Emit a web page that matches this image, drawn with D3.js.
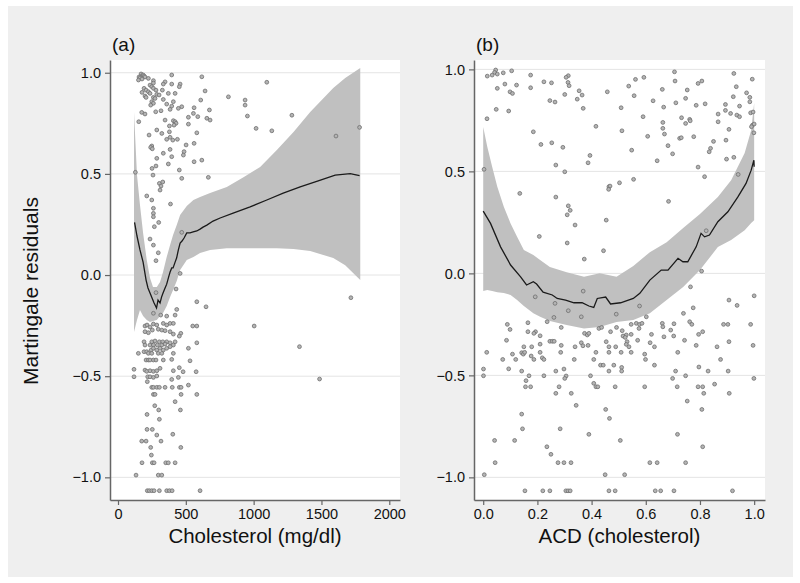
<!DOCTYPE html>
<html><head><meta charset="utf-8">
<script src="https://cdn.jsdelivr.net/npm/d3@7"></script>
<style>body{margin:0;background:#fff}svg{display:block}text{font-family:"Liberation Sans",Arial,Helvetica,sans-serif}</style>
</head><body>
<script>
// ---------- DATA ----------
const yTicks = [-1, -0.5, 0, 0.5, 1];
const cholTicks = [0, 500, 1000, 1500, 2000];
const acdTicks = [0, 0.2, 0.4, 0.6, 0.8, 1.0];
const panelLabels = ["(a)", "(b)"];
const xTitles = ["Cholesterol (mg/dl)", "ACD (cholesterol)"];
const yTitle = "Martingale residuals";

// panel (a): residuals vs cholesterol
const ptsA = [
[170,0.994],[177,0.984],[185,0.989],[192,0.984],[199,0.979],[155,0.979],[162,0.974],[151,0.964],[177,0.969],[396,0.989],[618,0.980],[224,0.972],[261,0.961],[261,0.949],[347,0.955],[334,0.944],[396,0.944],[458,0.944],[452,0.931],[236,0.939],[249,0.931],[261,0.923],[192,0.923],[207,0.914],[177,0.903],[224,0.906],[236,0.898],[280,0.914],[327,0.914],[642,0.910],[286,0.893],[303,0.890],[371,0.898],[421,0.898],[199,0.885],[207,0.878],[261,0.878],[273,0.873],[334,0.868],[408,0.857],[249,0.857],[261,0.849],[241,0.840],[359,0.845],[610,0.865],[814,0.881],[470,0.832],[445,0.824],[396,0.835],[384,0.819],[278,0.807],[317,0.812],[561,0.827],[556,0.799],[674,0.816],[175,0.804],[199,0.796],[519,0.780],[588,0.783],[655,0.775],[679,0.766],[153,0.758],[347,0.766],[408,0.763],[421,0.758],[428,0.750],[413,0.741],[519,0.746],[379,0.737],[286,0.717],[323,0.700],[229,0.692],[379,0.708],[581,0.703],[359,0.671],[384,0.681],[404,0.667],[438,0.671],[249,0.638],[241,0.631],[253,0.624],[502,0.643],[561,0.651],[384,0.621],[334,0.602],[487,0.610],[482,0.593],[396,0.585],[286,0.577],[561,0.560],[618,0.568],[371,0.549],[280,0.539],[251,0.527],[128,0.508],[258,0.494],[452,0.519],[470,0.478],[666,0.483],[305,0.453],[317,0.440],[330,0.460],[310,0.420],[212,0.391],[249,0.371],[261,0.330],[261,0.305],[261,0.288],[387,0.351],[300,0.260],[268,0.239],[236,0.178],[261,0.148],[297,0.110],[280,0.071],[470,0.211],[458,0.008],[428,-0.069],
[937,0.865],[937,0.840],[954,0.786],[1018,0.725],[1097,0.953],[1134,0.713],[1282,0.790],[1607,0.687],[1781,0.730],
[280,-0.087],[581,-0.132],[649,-0.157],[433,-0.170],[261,-0.189],[315,-0.198],[359,-0.203],[421,-0.198],
[199,-0.252],[214,-0.247],[236,-0.257],[261,-0.242],[286,-0.247],[334,-0.239],[359,-0.247],[384,-0.239],[408,-0.239],[551,-0.252],[581,-0.252],[1004,-0.252],
[253,-0.272],[297,-0.268],[323,-0.272],[347,-0.275],[199,-0.280],[224,-0.285],[384,-0.280],[408,-0.292],[463,-0.288],[452,-0.302],
[192,-0.330],[199,-0.346],[249,-0.330],[273,-0.326],[305,-0.330],[330,-0.330],[359,-0.330],[384,-0.335],[421,-0.330],[236,-0.346],[261,-0.346],[290,-0.346],[323,-0.346],[347,-0.341],[408,-0.346],[384,-0.354],[581,-0.335],[519,-0.362],
[192,-0.379],[212,-0.379],[244,-0.371],[261,-0.362],[286,-0.371],[310,-0.362],[334,-0.371],[359,-0.362],[150,-0.387],[224,-0.387],[249,-0.387],[297,-0.387],[323,-0.387],[408,-0.387],
[207,-0.420],[224,-0.420],[236,-0.420],[261,-0.420],[280,-0.420],[334,-0.420],[396,-0.417],[531,-0.424],[452,-0.458],
[118,-0.466],[199,-0.470],[212,-0.476],[236,-0.473],[261,-0.476],[286,-0.473],[310,-0.461],[408,-0.473],[480,-0.478],[576,-0.478],
[118,-0.503],[219,-0.503],[236,-0.503],[261,-0.506],[286,-0.499],[396,-0.516],[445,-0.506],[216,-0.527],
[519,-0.544],[249,-0.555],[261,-0.555],[286,-0.555],[305,-0.555],[347,-0.555],[400,-0.555],[452,-0.555],[465,-0.555],
[261,-0.590],[273,-0.590],[465,-0.590],[581,-0.590],
[421,-0.626],[271,-0.646],[300,-0.667],[460,-0.667],[214,-0.689],[305,-0.713],
[214,-0.763],[253,-0.763],[286,-0.791],[404,-0.787],[175,-0.821],[207,-0.821],[317,-0.821],
[241,-0.852],[463,-0.852],[246,-0.890],
[177,-0.928],[253,-0.928],[266,-0.928],[352,-0.928],[371,-0.928],[421,-0.928],
[133,-0.989],[297,-0.989],[323,-0.989],
[216,-1.066],[231,-1.066],[249,-1.066],[266,-1.066],[305,-1.066],[359,-1.066],[379,-1.066],[399,-1.066],[605,-1.066],
[1338,-0.354],[1486,-0.514],[1717,-0.112]
];
const lineA = [[122,0.260],[140,0.193],[162,0.124],[185,0.064],[207,-0.025],[221,-0.064],[236,-0.089],[251,-0.114],[266,-0.138],[284,-0.163],[295,-0.124],[310,-0.138],[321,-0.109],[332,-0.089],[347,-0.064],[359,-0.045],[373,-0.010],[384,0.015],[396,0.035],[406,0.035],[421,0.064],[432,0.084],[445,0.124],[458,0.158],[472,0.168],[487,0.183],[507,0.208],[531,0.208],[554,0.213],[581,0.218],[605,0.227],[627,0.237],[655,0.247],[701,0.267],[753,0.282],[849,0.306],[974,0.337],[1097,0.371],[1218,0.405],[1343,0.436],[1476,0.465],[1601,0.494],[1712,0.501],[1781,0.491]];
const bandAx  = [118,140,162,185,212,236,258,286,310,332,359,384,406,433,458,507,556,605,679,802,925,1048,1171,1294,1417,1587,1675,1786];
const bandAhi = [0.806,0.494,0.346,0.208,0.074,-0.015,-0.059,-0.059,-0.035,0.015,0.089,0.148,0.198,0.247,0.297,0.341,0.371,0.386,0.405,0.435,0.484,0.534,0.618,0.707,0.806,0.924,0.974,1.023];
const bandAlo = [-0.282,-0.222,-0.173,-0.203,-0.222,-0.232,-0.227,-0.222,-0.203,-0.188,-0.153,-0.109,-0.074,-0.030,0.025,0.074,0.089,0.109,0.124,0.133,0.133,0.133,0.133,0.129,0.119,0.084,0.049,-0.025];

// panel (b): residuals vs ACD
const ptsB = [
[0.046,0.997],[0.042,0.985],[0.052,0.977],[0.015,0.967],[0.033,0.972],[0.074,0.983],[0.105,0.993],[0.175,0.972],[0.224,0.939],[0.252,0.934],[0.314,0.969],[0.306,0.961],[0.313,0.936],[0.317,0.920],[0.080,0.928],[0.123,0.923],[0.052,0.907],[0.099,0.890],[0.108,0.882],[0.175,0.910],[0.301,0.877],[0.354,0.895],[0.365,0.874],[0.347,0.854],[0.458,0.890],[0.246,0.847],[0.265,0.840],[0.048,0.804],[0.094,0.796],[0.369,0.809],[0.509,0.812],[0.014,0.758],[0.416,0.721],[0.185,0.694],[0.512,0.699],[0.213,0.632],[0.253,0.640],[0.294,0.618],[0.394,0.578],[0.387,0.542],[0.268,0.531],[0.301,0.498],[0.003,0.510],[0.503,0.444],[0.464,0.425],[0.468,0.428],[0.463,0.412],[0.135,0.392],[0.268,0.374],[0.314,0.331],[0.321,0.309],[0.310,0.287],[0.454,0.261],[0.339,0.237],[0.207,0.181],[0.310,0.149],[0.444,0.111],[0.373,0.070],
[0.706,0.988],[0.925,0.980],[0.562,0.951],[0.593,0.961],[0.708,0.943],[0.993,0.952],[0.537,0.918],[0.793,0.931],[0.807,0.943],[0.934,0.915],[0.661,0.902],[0.753,0.899],[0.557,0.871],[0.972,0.885],[0.923,0.866],[0.984,0.863],[0.984,0.841],[0.627,0.846],[0.747,0.858],[0.711,0.836],[0.819,0.831],[0.786,0.824],[0.894,0.828],[0.894,0.799],[0.666,0.815],[0.946,0.820],[0.913,0.784],[0.936,0.776],[0.946,0.768],[0.987,0.787],[0.996,0.791],[0.867,0.781],[0.867,0.743],[0.590,0.768],[0.732,0.763],[0.762,0.755],[0.764,0.748],[0.747,0.735],[0.663,0.740],[0.663,0.711],[0.669,0.683],[0.907,0.706],[0.994,0.727],[1.0,0.732],[0.999,0.689],[0.990,0.719],[0.607,0.672],[0.725,0.662],[0.731,0.665],[0.777,0.670],[0.896,0.653],[0.850,0.647],[0.682,0.626],[0.839,0.613],[0.834,0.596],[0.548,0.604],[0.699,0.586],[0.925,0.569],[0.898,0.560],[0.642,0.552],[0.793,0.521],[0.941,0.485],[0.555,0.461],[0.817,0.474],[0.684,0.353],[0.823,0.209],[0.806,0.011],
[0.765,-0.066],[0.907,-0.131],[1.0,-0.110],
[0.369,-0.087],[0.192,-0.115],[0.265,-0.147],[0.314,-0.183],[0.362,-0.213],[0.491,-0.200],[0.261,-0.216],[0.236,-0.237],[0.089,-0.250],[0.099,-0.275],[0.165,-0.242],[0.165,-0.286],[0.193,-0.286],[0.187,-0.294],[0.210,-0.306],[0.288,-0.265],[0.374,-0.294],[0.384,-0.302],[0.390,-0.294],[0.427,-0.270],[0.437,-0.265],[0.470,-0.286],[0.492,-0.265],[0.513,-0.281],[0.516,-0.307],[0.086,-0.328],[0.246,-0.333],[0.255,-0.333],[0.262,-0.333],[0.210,-0.347],[0.288,-0.353],[0.362,-0.340],[0.368,-0.355],[0.387,-0.353],[0.454,-0.335],[0.464,-0.360],[0.489,-0.360],[0.150,-0.360],[0.179,-0.360],[0.339,-0.360],[0.142,-0.389],[0.148,-0.396],[0.153,-0.387],[0.210,-0.387],[0.286,-0.387],[0.416,-0.387],[0.464,-0.387],[0.509,-0.387],[0.013,-0.387],[0.108,-0.396],[0.177,-0.405],[0.187,-0.422],[0.218,-0.414],[0.224,-0.422],[0.072,-0.422],[0.120,-0.422],[0.336,-0.422],[0.408,-0.422],[0.433,-0.450],[0.443,-0.450],[0.482,-0.450],[0.511,-0.461],[0.001,-0.469],[0.094,-0.468],[0.142,-0.479],[0.268,-0.479],[0.298,-0.469],[0.464,-0.479],[0.511,-0.479],[0.001,-0.502],[0.169,-0.502],[0.224,-0.502],[0.306,-0.503],[0.301,-0.515],[0.396,-0.502],[0.158,-0.526],[0.156,-0.556],[0.175,-0.556],[0.280,-0.556],[0.408,-0.539],[0.416,-0.556],[0.423,-0.556],[0.487,-0.556],[0.268,-0.588],[0.325,-0.588],[0.343,-0.647],[0.452,-0.667],[0.466,-0.711],[0.142,-0.690],[0.145,-0.762],[0.284,-0.762],[0.390,-0.789],[0.042,-0.819],[0.116,-0.819],[0.506,-0.819],[0.235,-0.850],[0.250,-0.887],[0.044,-0.928],[0.276,-0.928],[0.298,-0.928],[0.324,-0.928],[0.004,-0.987],[0.450,-0.987],[0.154,-1.066],[0.220,-1.066],[0.246,-1.066],[0.305,-1.066],[0.313,-1.066],[0.321,-1.066],[0.464,-1.066],[0.487,-1.066],
[0.577,-0.160],[0.602,-0.213],[0.937,-0.157],[0.775,-0.169],[0.739,-0.196],[0.661,-0.245],[0.663,-0.262],[0.546,-0.250],[0.565,-0.245],[0.577,-0.250],[0.586,-0.245],[0.704,-0.247],[0.762,-0.237],[0.770,-0.250],[0.887,-0.250],[0.903,-0.250],[0.987,-0.250],[0.575,-0.270],[0.692,-0.278],[0.810,-0.286],[0.528,-0.302],[0.524,-0.314],[0.546,-0.299],[0.621,-0.299],[0.667,-0.311],[0.703,-0.307],[0.795,-0.299],[0.570,-0.328],[0.616,-0.340],[0.743,-0.328],[0.907,-0.335],[0.531,-0.335],[0.528,-0.348],[0.632,-0.360],[0.786,-0.353],[0.863,-0.360],[0.996,-0.353],[0.538,-0.360],[0.546,-0.387],[0.596,-0.396],[0.718,-0.387],[0.599,-0.422],[0.876,-0.422],[0.632,-0.450],[0.796,-0.459],[0.710,-0.479],[0.830,-0.479],[0.904,-0.479],[0.999,-0.515],[0.699,-0.515],[0.747,-0.502],[0.854,-0.543],[0.596,-0.556],[0.716,-0.556],[0.793,-0.556],[0.810,-0.556],[0.814,-0.588],[0.908,-0.588],[0.753,-0.626],[0.807,-0.667],[0.717,-0.789],[0.810,-0.850],[0.615,-0.928],[0.642,-0.928],[0.747,-0.928],[0.522,-0.987],[0.635,-1.066],[0.655,-1.066],[0.704,-1.066],[0.920,-1.066]
];
const lineB = [[0.000,0.305],[0.027,0.245],[0.064,0.130],[0.101,0.041],[0.138,-0.017],[0.160,-0.057],[0.185,-0.041],[0.197,-0.052],[0.221,-0.092],[0.255,-0.106],[0.273,-0.123],[0.304,-0.131],[0.335,-0.144],[0.365,-0.144],[0.390,-0.160],[0.408,-0.167],[0.421,-0.123],[0.452,-0.116],[0.470,-0.150],[0.507,-0.144],[0.554,-0.123],[0.578,-0.098],[0.615,-0.033],[0.657,0.016],[0.682,0.016],[0.719,0.074],[0.737,0.057],[0.755,0.057],[0.786,0.130],[0.804,0.196],[0.817,0.179],[0.835,0.188],[0.866,0.253],[0.903,0.302],[0.940,0.375],[0.970,0.441],[0.989,0.506],[0.999,0.555],[1.0,0.523]];
const bandBx  = [0,0.015,0.033,0.052,0.076,0.101,0.125,0.150,0.185,0.210,0.246,0.308,0.372,0.430,0.492,0.554,0.615,0.677,0.738,0.800,0.866,0.915,0.965,0.989,1.0];
const bandBhi = [0.718,0.621,0.523,0.425,0.326,0.245,0.179,0.114,0.090,0.065,0.031,0.006,-0.017,0.000,-0.017,0.036,0.104,0.153,0.222,0.291,0.374,0.457,0.590,0.702,0.835];
const bandBlo = [-0.087,-0.082,-0.087,-0.092,-0.096,-0.106,-0.131,-0.160,-0.195,-0.213,-0.234,-0.253,-0.270,-0.263,-0.239,-0.229,-0.195,-0.131,-0.067,0.016,0.129,0.163,0.212,0.247,0.261];

// ---------- DRAW ----------
const W = 800, H = 583;
const svg = d3.select("body").append("svg").attr("width", W).attr("height", H);
svg.append("rect").attr("x",0).attr("y",0).attr("width",W).attr("height",H).attr("fill","#fff");
svg.append("rect").attr("x",8).attr("y",6).attr("width",785).attr("height",571).attr("fill","#efefef");

const fmtY = d3.format(".1f");
const panels = [
  {x: d3.scaleLinear().domain([-59, 2079]).range([110, 400]),
   y: d3.scaleLinear().domain([-1.112, 1.063]).range([500, 60]),
   xt: cholTicks, xf: d3.format("d"), pts: ptsA, line: lineA, bx: bandAx, bhi: bandAhi, blo: bandAlo},
  {x: d3.scaleLinear().domain([-0.034, 1.040]).range([474, 765]),
   y: d3.scaleLinear().domain([-1.111, 1.046]).range([500, 60]),
   xt: acdTicks, xf: d3.format(".1f"), pts: ptsB, line: lineB, bx: bandBx, bhi: bandBhi, blo: bandBlo}
];

panels.forEach((p, i) => {
  const [x0, x1] = p.x.range(), [y0, y1] = p.y.range();
  const g = svg.append("g");
  g.append("rect").attr("x", x0).attr("y", y1).attr("width", x1 - x0).attr("height", y0 - y1).attr("fill", "#fff");
  // grid
  g.selectAll("line.grid").data(yTicks).join("line")
    .attr("x1", x0).attr("x2", x1).attr("y1", d => p.y(d)).attr("y2", d => p.y(d))
    .attr("stroke", "#e4e4e4").attr("stroke-width", 1);
  // band
  const band = p.bx.map((v, k) => ({x: v, lo: p.blo[k], hi: p.bhi[k]}));
  g.append("path").datum(band)
    .attr("d", d3.area().x(d => p.x(d.x)).y0(d => p.y(d.lo)).y1(d => p.y(d.hi)))
    .attr("fill", "#c0c0c0");
  // points
  g.selectAll("circle").data(p.pts).join("circle")
    .attr("cx", d => p.x(d[0])).attr("cy", d => p.y(d[1])).attr("r", 1.9)
    .attr("fill", "#b4b4b4").attr("stroke", "#6e6e6e").attr("stroke-width", 0.8);
  // line
  g.append("path").datum(p.line)
    .attr("d", d3.line().x(d => p.x(d[0])).y(d => p.y(d[1])))
    .attr("fill", "none").attr("stroke", "#1a1a1a").attr("stroke-width", 1.3);
  // axes
  const ay = g.append("g").attr("transform", `translate(${x0},0)`)
    .call(d3.axisLeft(p.y).tickValues(yTicks).tickFormat(fmtY).tickSize(5).tickSizeOuter(0).tickPadding(4));
  const ax = g.append("g").attr("transform", `translate(0,${y0})`)
    .call(d3.axisBottom(p.x).tickValues(p.xt).tickFormat(p.xf).tickSize(5).tickSizeOuter(0).tickPadding(3.5));
  [ay, ax].forEach(a => {
    a.select(".domain").attr("stroke", "#666").attr("stroke-width", 1.5);
    a.selectAll(".tick line").attr("stroke", "#666").attr("stroke-width", 1.2);
    a.selectAll("text").attr("font-size", 14.5).attr("fill", "#111")
      .attr("font-family", '"Liberation Sans", Arial, sans-serif');
  });
  // titles
  svg.append("text").attr("x", (x0 + x1) / 2).attr("y", 543).attr("text-anchor", "middle")
    .attr("font-size", 20.5).attr("fill", "#111").text(xTitles[i]);
  svg.append("text").attr("x", x0 + 2).attr("y", 51).attr("font-size", 19).attr("fill", "#111").text(panelLabels[i]);
});

svg.append("text").attr("transform", "translate(38,291) rotate(-90)").attr("text-anchor", "middle")
  .attr("font-size", 21).attr("fill", "#111").text(yTitle);
</script>
</body></html>
